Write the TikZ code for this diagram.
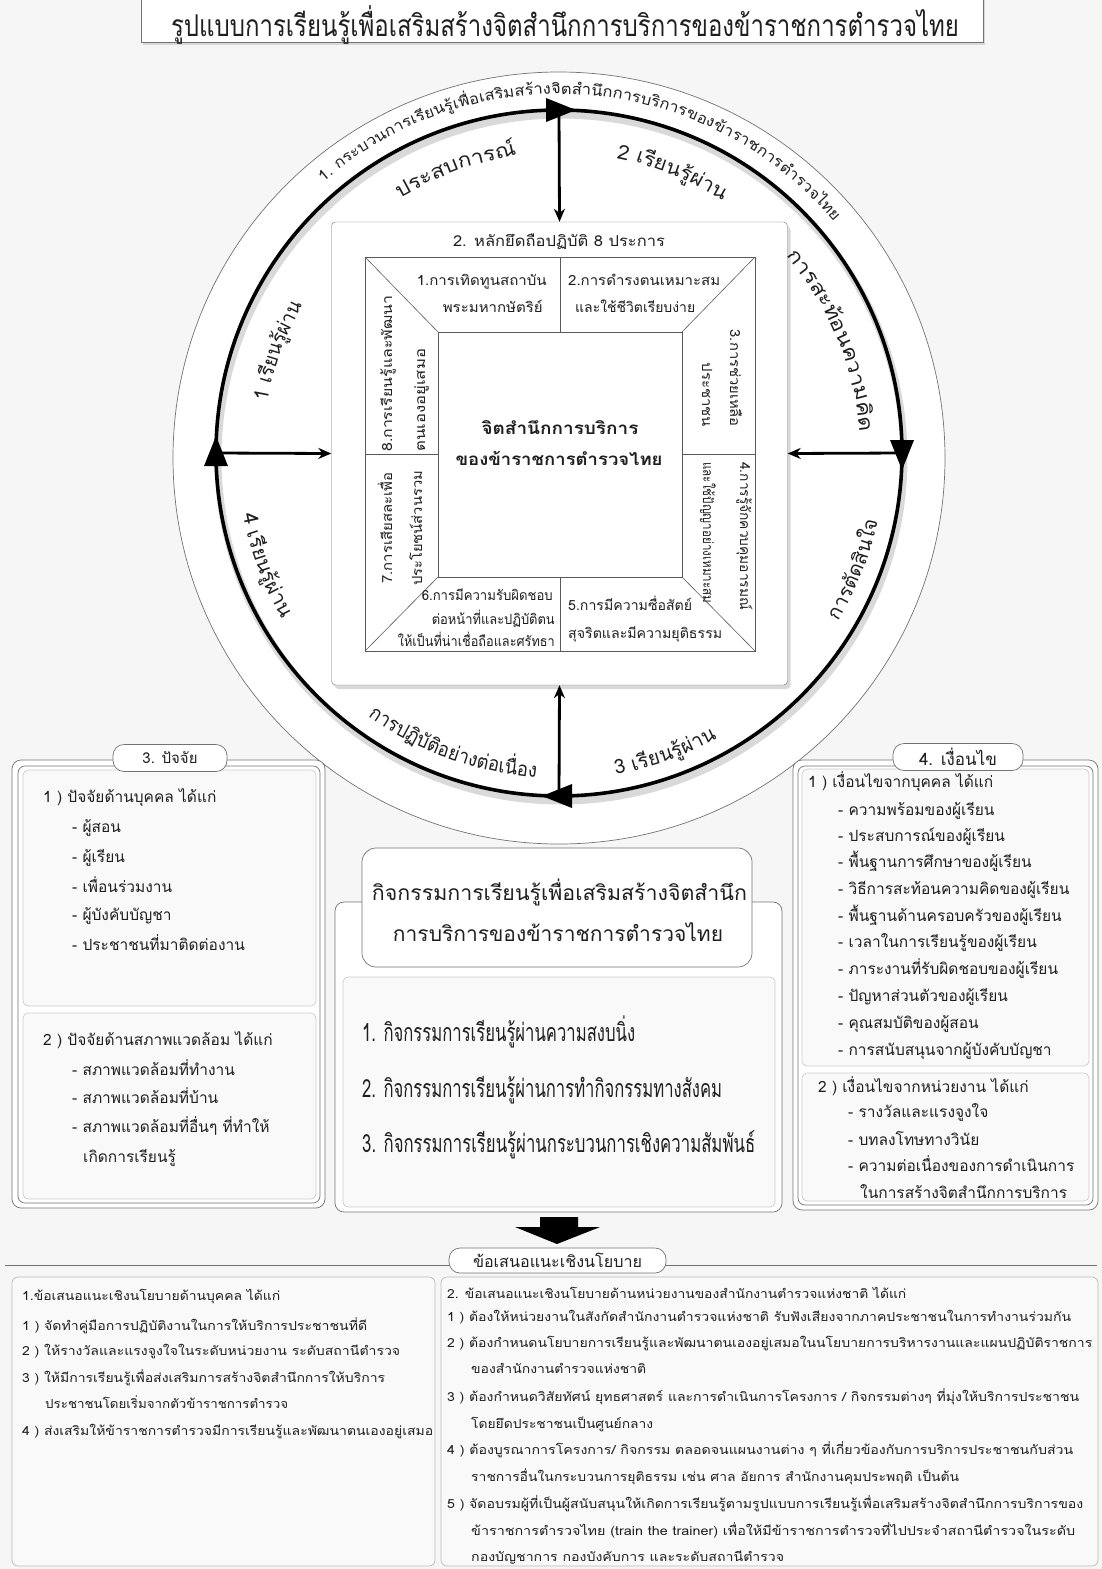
\documentclass[tikz,border=0pt]{standalone}
\usepackage{fontspec}
\setmainfont{Loma}[Script=Thai]
\usetikzlibrary{calc,shadows,arrows.meta}
\newcommand\fs[1]{\fontsize{#1}{#1}\selectfont}
\newcommand\fitw[2]{\resizebox{#1pt}{\height}{#2}}
\definecolor{bg}{gray}{0.965}
\definecolor{frame}{gray}{0.45}
\definecolor{txt}{gray}{0.12}
\definecolor{subfill}{gray}{0.975}
\definecolor{subline}{gray}{0.80}
\newdimen\atw \newdimen\attot \newdimen\atacc
\newsavebox\atbox
\newcommand\arctext[6]{%
  \global\attot=0pt
  \foreach \atc in {#6}{\node[font=#5,inner sep=0pt] at (1,-1) {\sbox\atbox{\atc}\global\advance\attot by \wd\atbox};}%
  \ifdim\attot<1pt \global\attot=1pt \fi
  \pgfmathsetmacro\ats{abs(#4-#3)*0.0174533*#2/\the\attot}%
  \global\atacc=0pt
  \foreach \atc in {#6}{%
    \node[font=#5,inner sep=0pt] at (1,-1) {\sbox\atbox{\atc}\global\atw=\wd\atbox};%
    \pgfmathsetmacro\atf{(\the\atacc+0.5*\the\atw)/\the\attot}%
    \pgfmathsetmacro\ata{#3+(#4-#3)*\atf}%
    \pgfmathsetmacro\atr{(#4>#3) ? \ata+90 : \ata-90}%
    \node[font=#5,text=txt,inner sep=0pt,anchor=base,rotate=\atr] at ([shift={(\ata:#2)}]#1) {\scalebox{\ats}[1]{\atc}};
    \global\advance\atacc by \atw
  }%
}
\tikzset{
  frame/.style={draw=frame, line width=0.7pt},
  ln/.style={anchor=base west, inner sep=0pt, text=txt},
  lnr/.style={anchor=base east, inner sep=0pt, text=txt},
  pill/.style={draw=frame, fill=white, rounded corners=11pt, inner sep=0pt, line width=0.7pt},
  subbox/.style={draw=subline, fill=subfill, rounded corners=5pt, line width=0.7pt},
  spoke/.style={line width=2.8pt, -{Stealth[length=13pt,width=11pt]}},
  thin/.style={draw=gray!70!black, line width=0.6pt},
}
\begin{document}
\begin{tikzpicture}[x=1pt,y=1pt]
\useasboundingbox (0,0) rectangle (1102,-1569);
\fill[bg] (0,0) rectangle (1102,-1569);

% ---------- title
\node[draw=frame, fill=white, minimum width=842pt, minimum height=52pt, inner sep=0pt,
      drop shadow={opacity=0.25,shadow xshift=2pt,shadow yshift=-3pt}] (titlebox) at (562,-16) {};
\node[font=\fs{30}, text=txt, inner sep=0pt] (title) at (565,-25) {\fitw{788}{รูปแบบการเรียนรู้เพื่อเสริมสร้างจิตสำนึกการบริการของข้าราชการตำรวจไทย}};

% ---------- circles
\coordinate (C) at (559,-453);
\draw[frame, fill=white] (559,-458) circle[radius=386];
\draw[gray!30, line width=7pt] ([shift={(2,-5)}]C) circle[radius=343];
\draw[line width=3.6pt] (C) circle[radius=343];
\coordinate (ptop) at ($(C)+(90:343)$);
\coordinate (pright) at ($(C)+(0:343)$);
\coordinate (pbot) at ($(C)+(-90:343)$);
\coordinate (pleft) at ($(C)+(180:343)$);

% ---------- core box
\node[draw=frame, fill=white, rounded corners=4pt, minimum width=456pt, minimum height=463pt, inner sep=0pt,
      drop shadow={opacity=0.3,shadow xshift=3pt,shadow yshift=-4pt}] (core) at (559.5,-453.5) {};
\draw[thin] (365,-257) rectangle (755,-651);
\draw[thin] (438,-332) rectangle (682,-577);
\draw[thin] (365,-257) -- (438,-332) (755,-257) -- (682,-332) (755,-651) -- (682,-577) (365,-651) -- (438,-577);
\draw[thin] (560,-257) -- (560,-332) (560,-577) -- (560,-651);
\draw[thin] (365,-454) -- (438,-454) (682,-454) -- (755,-454);

\node[font=\fs{15}, text=txt, inner sep=0pt] (h2) at (559,-242) {\fitw{212}{2. หลักยึดถือปฏิบัติ 8 ประการ}};
\begin{scope}[every node/.append style={font=\fs{14}}]
\node[lnr] (p1a) at (547,-285) {\fitw{130}{1.การเทิดทูนสถาบัน}};
\node[lnr] (p1b) at (543,-312) {\fitw{100}{พระมหากษัตริย์}};
\node[ln] (p2a) at (568,-285) {\fitw{152}{2.การดำรงตนเหมาะสม}};
\node[ln] (p2b) at (575,-312) {\fitw{120}{และใช้ชีวิตเรียบง่าย}};
\node[lnr, rotate=-90] (p3a) at (730,-427) {\fitw{97}{3.การช่วยเหลือ}};
\node[lnr, rotate=-90] (p3b) at (702,-427) {\fitw{64}{ประชาชน}};
\node[ln, rotate=-90] (p4a) at (740,-462) {\fitw{148}{4.การรู้จักควบคุมอารมณ์}};
\node[ln, rotate=-90] (p4b) at (703,-462) {\fitw{141}{และใช้ปัญญาอย่างเหมาะสม}};
\node[ln] (p5a) at (568,-610) {\fitw{124}{5.การมีความซื่อสัตย์}};
\node[ln] (p5b) at (568,-638) {\fitw{154}{สุจริตและมีความยุติธรรม}};
\node[lnr] (p6a) at (553,-600) {\fitw{131}{6.การมีความรับผิดชอบ}};
\node[lnr] (p6b) at (555,-624) {\fitw{123}{ต่อหน้าที่และปฏิบัติตน}};
\node[lnr] (p6c) at (555,-646) {\fitw{157}{ให้เป็นที่น่าเชื่อถือและศรัทธา}};
\node[ln, rotate=90] (p7a) at (392,-584) {\fitw{111}{7.การเสียสละเพื่อ}};
\node[ln, rotate=90] (p7b) at (422,-586) {\fitw{115}{ประโยชน์ส่วนรวม}};
\node[ln, rotate=90] (p8a) at (392,-452) {\fitw{156}{8.การเรียนรู้และพัฒนา}};
\node[ln, rotate=90] (p8b) at (425,-452) {\fitw{103}{ตนเองอยู่เสมอ}};
\end{scope}
\node[font=\bfseries\fs{17}, text=txt, inner sep=0pt] (centre1) at (560,-428) {\fitw{157}{จิตสำนึกการบริการ}};
\node[font=\bfseries\fs{17}, text=txt, inner sep=0pt] (centre2) at (559,-458) {\fitw{207}{ของข้าราชการตำรวจไทย}};

% ---------- spokes and circle arrowheads
\draw[spoke] (ptop) -- (core.north);
\draw[spoke] (pleft) -- (core.west);
\draw[spoke] (pright) -- (core.east);
\draw[spoke] (pbot) -- (core.south);
\foreach \a in {90,0,-90,180}{
  \fill ($(C)+(\a:343)+(\a-90:17)$) -- ($(C)+(\a:343)+(\a+90:13)+(\a:12)$) -- ($(C)+(\a:343)+(\a+90:13)+(\a:-12)$) -- cycle;
}

% ---------- arc texts
\arctext{C}{359}{131}{40}{\fs{15}}{1.,~,กระ,บวน,การ,เรียน,รู้,เพื่อ,เส,ริม,สร้าง,จิต,สำ,นึก,การ,บริ,การ,ของ,ข้า,ราช,การ,ตำ,รวจ,ไทย}
\arctext{C}{300}{122}{98}{\fs{20}}{ประ,สบ,การณ์}
\arctext{C}{300}{79}{57}{\fs{20}}{2,~,เรียน,รู้,ผ่าน}
\arctext{C}{301}{41}{4}{\fs{20}}{การ,สะ,ท้อน,ความ,คิด}
\arctext{C}{326}{-31}{-12}{\fs{20}}{การ,ตัด,สิน,ใจ}
\arctext{C}{326}{-80}{-61}{\fs{20}}{3,~,เรียน,รู้,ผ่าน}
\arctext{C}{325}{234}{266}{\fs{20}}{การ,ปฏิ,บัติ,อย่าง,ต่อ,เนื่อง}
\arctext{C}{322}{191}{211}{\fs{20}}{4,~,เรียน,รู้,ผ่าน}
\arctext{C}{296}{170}{150}{\fs{20}}{1,~,เรียน,รู้,ผ่าน}

% ---------- left box: factors
\draw[frame, fill=white, rounded corners=9pt] (12,-760) rectangle (325,-1208);
\draw[frame, rounded corners=7pt] (18,-766) rectangle (320,-1203);
\draw[subbox] (23,-770) rectangle (316,-1006);
\draw[subbox] (23,-1013) rectangle (316,-1199);
\node[pill, minimum width=114pt, minimum height=27pt, font=\fs{15}, text=txt] (lab3) at (170,-758) {3. ปัจจัย};
\begin{scope}[every node/.style={ln, font=\fs{15.5}}]
\node (f1) at (43,-802) {1 ) ปัจจัยด้านบุคคล ได้แก่};
\node (f11) at (72,-832) {- ผู้สอน};
\node (f12) at (72,-862) {- ผู้เรียน};
\node (f13) at (72,-892) {- เพื่อนร่วมงาน};
\node (f14) at (72,-920) {- ผู้บังคับบัญชา};
\node (f15) at (72,-950) {- ประชาชนที่มาติดต่องาน};
\node (f2) at (43,-1045) {2 ) ปัจจัยด้านสภาพแวดล้อม ได้แก่};
\node (f21) at (72,-1075) {- สภาพแวดล้อมที่ทำงาน};
\node (f22) at (72,-1103) {- สภาพแวดล้อมที่บ้าน};
\node (f23) at (72,-1132) {- สภาพแวดล้อมที่อื่นๆ ที่ทำให้};
\node (f24) at (83,-1162) {เกิดการเรียนรู้};
\end{scope}

% ---------- right box: conditions
\draw[frame, fill=white, rounded corners=9pt] (793,-760) rectangle (1098,-1210);
\draw[frame, rounded corners=7pt] (798,-766) rectangle (1093,-1205);
\draw[subbox] (802,-769) rectangle (1089,-1066);
\draw[subbox] (802,-1073) rectangle (1089,-1201);
\node[pill, minimum width=130pt, minimum height=27pt, font=\fs{17}, text=txt] (lab4) at (958,-757) {4. เงื่อนไข};
\begin{scope}[every node/.style={ln, font=\fs{15.5}}]
\node (c1) at (808,-787) {1 ) เงื่อนไขจากบุคคล ได้แก่};
\node (c11) at (838,-815) {- ความพร้อมของผู้เรียน};
\node (c12) at (838,-841) {- ประสบการณ์ของผู้เรียน};
\node (c13) at (838,-867) {- พื้นฐานการศึกษาของผู้เรียน};
\node (c14) at (838,-894) {- วิธีการสะท้อนความคิดของผู้เรียน};
\node (c15) at (838,-921) {- พื้นฐานด้านครอบครัวของผู้เรียน};
\node (c16) at (838,-947) {- เวลาในการเรียนรู้ของผู้เรียน};
\node (c17) at (838,-974) {- ภาระงานที่รับผิดชอบของผู้เรียน};
\node (c18) at (838,-1001) {- ปัญหาส่วนตัวของผู้เรียน};
\node (c19) at (838,-1028) {- คุณสมบัติของผู้สอน};
\node (c110) at (838,-1055) {- การสนับสนุนจากผู้บังคับบัญชา};
\node (c2) at (818,-1092) {2 ) เงื่อนไขจากหน่วยงาน ได้แก่};
\node (c21) at (848,-1117) {- รางวัลและแรงจูงใจ};
\node (c22) at (848,-1145) {- บทลงโทษทางวินัย};
\node (c23) at (848,-1171) {- ความต่อเนื่องของการดำเนินการ};
\node (c24) at (860,-1198) {ในการสร้างจิตสำนึกการบริการ};
\end{scope}

% ---------- middle: activities
\draw[frame, fill=white, rounded corners=9pt] (335,-902) rectangle (782,-1212);
\draw[subbox] (343,-977) rectangle (775,-1207);
\node[pill, rounded corners=14pt, minimum width=390pt, minimum height=119pt] (acttitle) at (557,-907.5) {};
\node[font=\fs{21}, text=txt, inner sep=0pt] (at1) at (559.5,-892) {\fitw{375}{กิจกรรมการเรียนรู้เพื่อเสริมสร้างจิตสำนึก}};
\node[font=\fs{21}, text=txt, inner sep=0pt] (at2) at (558,-932) {\fitw{330}{การบริการของข้าราชการตำรวจไทย}};
\node[ln, font=\fs{25}] (a1) at (362,-1041) {\fitw{273}{1. กิจกรรมการเรียนรู้ผ่านความสงบนิ่ง}};
\node[ln, font=\fs{25}] (a2) at (362,-1097) {\fitw{360}{2. กิจกรรมการเรียนรู้ผ่านการทำกิจกรรมทางสังคม}};
\node[ln, font=\fs{25}] (a3) at (362,-1152) {\fitw{393}{3. กิจกรรมการเรียนรู้ผ่านกระบวนการเชิงความสัมพันธ์}};

% ---------- down arrow and policy section
\fill (540,-1217) -- (578,-1217) -- (578,-1227) -- (600,-1227) -- (557,-1244) -- (515,-1227) -- (540,-1227) -- cycle;
\draw[frame] (5,-1265) -- (1097,-1265);
\node[pill, minimum width=217pt, minimum height=25pt, font=\fs{16}, text=txt] (labp) at (557.5,-1260.5) {\fitw{169}{ข้อเสนอแนะเชิงนโยบาย}};
\draw[draw=gray!55, fill=subfill, rounded corners=6pt, line width=0.7pt] (12,-1277) rectangle (435,-1566);
\draw[draw=gray!55, fill=subfill, rounded corners=6pt, line width=0.7pt] (441,-1277) rectangle (1098,-1566);
\begin{scope}[every node/.style={ln, font=\fs{12.5}}]
\node (l0) at (22,-1300) {\fitw{258}{1.ข้อเสนอแนะเชิงนโยบายด้านบุคคล ได้แก่}};
\node (l1) at (22,-1330) {\fitw{345}{1 ) จัดทำคู่มือการปฏิบัติงานในการให้บริการประชาชนที่ดี}};
\node (l2) at (22,-1355) {\fitw{378}{2 ) ให้รางวัลและแรงจูงใจในระดับหน่วยงาน ระดับสถานีตำรวจ}};
\node (l3) at (22,-1382) {\fitw{363}{3 ) ให้มีการเรียนรู้เพื่อส่งเสริมการสร้างจิตสำนึกการให้บริการ}};
\node (l3b) at (45,-1408) {\fitw{243}{ประชาชนโดยเริ่มจากตัวข้าราชการตำรวจ}};
\node (l4) at (22,-1435) {\fitw{411}{4 ) ส่งเสริมให้ข้าราชการตำรวจมีการเรียนรู้และพัฒนาตนเองอยู่เสมอ}};
\node (r0) at (447,-1298) {\fitw{459}{2. ข้อเสนอแนะเชิงนโยบายด้านหน่วยงานของสำนักงานตำรวจแห่งชาติ ได้แก่}};
\node (r1) at (447,-1321) {\fitw{624}{1 ) ต้องให้หน่วยงานในสังกัดสำนักงานตำรวจแห่งชาติ รับฟังเสียงจากภาคประชาชนในการทำงานร่วมกัน}};
\node (r2) at (447,-1347) {\fitw{645}{2 ) ต้องกำหนดนโยบายการเรียนรู้และพัฒนาตนเองอยู่เสมอในนโยบายการบริหารงานและแผนปฏิบัติราชการ}};
\node (r2b) at (471,-1373) {\fitw{175}{ของสำนักงานตำรวจแห่งชาติ}};
\node (r3) at (447,-1401) {\fitw{632}{3 ) ต้องกำหนดวิสัยทัศน์ ยุทธศาสตร์ และการดำเนินการโครงการ / กิจกรรมต่างๆ ที่มุ่งให้บริการประชาชน}};
\node (r3b) at (471,-1428) {\fitw{182}{โดยยึดประชาชนเป็นศูนย์กลาง}};
\node (r4) at (447,-1454) {\fitw{626}{4 ) ต้องบูรณาการโครงการ/ กิจกรรม ตลอดจนแผนงานต่าง ๆ ที่เกี่ยวข้องกับการบริการประชาชนกับส่วน}};
\node (r4b) at (471,-1481) {\fitw{488}{ราชการอื่นในกระบวนการยุติธรรม เช่น ศาล อัยการ สำนักงานคุมประพฤติ เป็นต้น}};
\node (r5) at (447,-1508) {\fitw{636}{5 ) จัดอบรมผู้ที่เป็นผู้สนับสนุนให้เกิดการเรียนรู้ตามรูปแบบการเรียนรู้เพื่อเสริมสร้างจิตสำนึกการบริการของ}};
\node (r5b) at (471,-1535) {\fitw{604}{ข้าราชการตำรวจไทย (train the trainer) เพื่อให้มีข้าราชการตำรวจที่ไปประจำสถานีตำรวจในระดับ}};
\node (r5c) at (471,-1561) {\fitw{313}{กองบัญชาการ กองบังคับการ และระดับสถานีตำรวจ}};
\end{scope}
\end{tikzpicture}
\end{document}
